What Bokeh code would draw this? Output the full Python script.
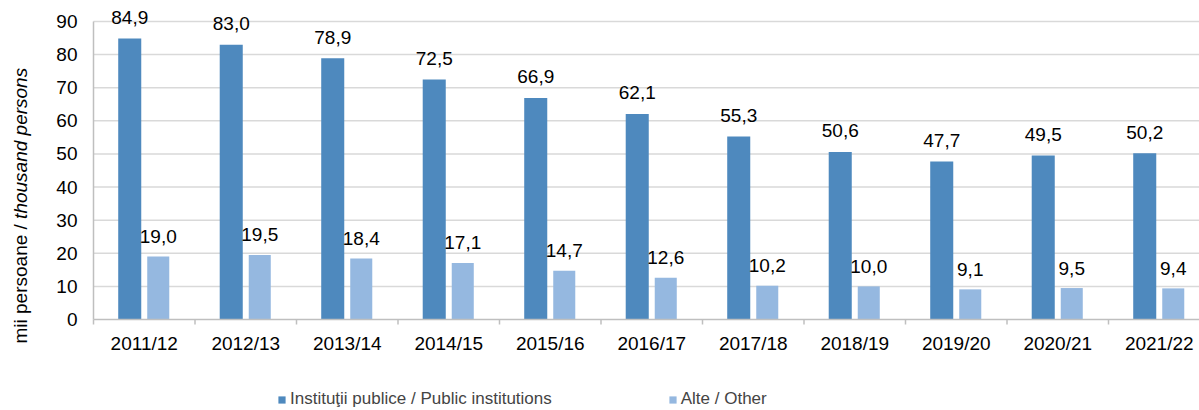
import math
from bokeh.plotting import figure
from bokeh.models import ColumnDataSource, Label, Legend, LegendItem, Range1d
from bokeh.transform import dodge
from bokeh.core.properties import value
from bokeh.embed import file_html
from bokeh.resources import INLINE

years = ["2011/12", "2012/13", "2013/14", "2014/15", "2015/16", "2016/17",
         "2017/18", "2018/19", "2019/20", "2020/21", "2021/22"]
publice = [84.9, 83.0, 78.9, 72.5, 66.9, 62.1, 55.3, 50.6, 47.7, 49.5, 50.2]
alte = [19.0, 19.5, 18.4, 17.1, 14.7, 12.6, 10.2, 10.0, 9.1, 9.5, 9.4]
series_names = ["Instituţii publice / Public institutions", "Alte / Other"]
y_ticks = [0, 10, 20, 30, 40, 50, 60, 70, 80, 90]
y_title = ["mii persoane /", "thousand persons"]

FONT = "Liberation Sans"
FS = "19px"
LEG_FS = "17px"
DARK = "#4E89BE"
LIGHT = "#95B8E0"
GRID = "#D9D9D9"
AXIS = "#BFBFBF"

W, H = 1199, 410
PX_X = 101.5          # pixels per category
PX_Y = 298 / 90       # pixels per unit
LEFT, BASE = 93, 319  # pixel position of the plot's left edge and of value 0

xs = list(range(len(years)))
fmt = lambda v: f"{v:.1f}".replace(".", ",")
src = ColumnDataSource(dict(
    x=xs, pub=publice, alt=alte,
    pub_lbl=[fmt(v) for v in publice],
    alt_lbl=[fmt(v) for v in alte],
))

x0 = -0.5
p = figure(width=W, height=H, output_backend="svg", toolbar_location=None,
           x_range=Range1d(x0 - LEFT / PX_X, x0 + (W - LEFT) / PX_X),
           y_range=Range1d(-(H - BASE) / PX_Y, BASE / PX_Y),
           x_axis_location=None, y_axis_location=None,
           min_border=0)
p.outline_line_color = None
p.background_fill_color = "white"
p.grid.visible = False

x_last = len(years) - 0.5

# gridlines
gl = y_ticks[1:]
p.segment(x0=[x0] * len(gl), y0=gl, x1=[x_last + 1] * len(gl), y1=gl,
          line_color=GRID, line_width=1.5)

r1 = p.vbar(x=dodge("x", -0.143), top="pub", width=0.227, bottom=0, source=src,
            fill_color=DARK, line_color=None)
r2 = p.vbar(x=dodge("x", 0.138), top="alt", width=0.217, bottom=0, source=src,
            fill_color=LIGHT, line_color=None)

p.text(x=dodge("x", -0.143), y="pub", text="pub_lbl", source=src, text_align="center",
       text_baseline="alphabetic", y_offset=-21, text_font=value(FONT),
       text_font_size=FS, text_color="black")
p.text(x=dodge("x", 0.138), y="alt", text="alt_lbl", source=src, text_align="center",
       text_baseline="alphabetic", y_offset=-20, text_font=value(FONT),
       text_font_size=FS, text_color="black")

# axis lines
p.segment(x0=[x0], y0=[y_ticks[0]], x1=[x0], y1=[y_ticks[-1]], line_color=AXIS, line_width=1.5)
p.segment(x0=[x0], y0=[0], x1=[x_last + 1], y1=[0], line_color=AXIS, line_width=1.5)

# category boundary ticks on the x axis
bounds = [i - 0.5 for i in range(len(years) + 1)]
p.segment(x0=bounds, y0=[0] * len(bounds), x1=bounds, y1=[-5 / PX_Y] * len(bounds),
          line_color=AXIS, line_width=1.5)

# x tick labels
p.text(x=xs, y=[0] * len(xs), text=years, text_align="center", text_baseline="middle",
       y_offset=24, text_font=value(FONT), text_font_size=FS, text_color="black")

# y tick labels
p.text(x=[x0] * len(y_ticks), y=y_ticks, text=[str(t) for t in y_ticks],
       text_align="right", text_baseline="middle", x_offset=-16,
       text_font=value(FONT), text_font_size=FS, text_color="black")

# y-axis title in two styles
lx = x0 - 73 / PX_X
ly0 = -24 / PX_Y
ly1 = ly0 + 124.6 / PX_Y
p.add_layout(Label(x=lx, y=ly0, text=y_title[0], angle=math.pi / 2,
                   text_align="left", text_baseline="middle",
                   text_font=FONT, text_font_size=FS, text_color="black"))
p.add_layout(Label(x=lx, y=ly1, text=y_title[1], angle=math.pi / 2,
                   text_align="left", text_baseline="middle",
                   text_font=FONT, text_font_size=FS, text_font_style="italic",
                   text_color="black"))

legend = Legend(items=[LegendItem(label=series_names[0], renderers=[r1]),
                       LegendItem(label=series_names[1], renderers=[r2])],
                orientation="horizontal", location=(277, 1),
                glyph_width=9, glyph_height=9, label_standoff=4, spacing=116,
                padding=0, margin=0, border_line_color=None, background_fill_alpha=0,
                label_text_font=FONT, label_text_font_size=LEG_FS, label_height=19)
p.add_layout(legend)

open("out.html", "w").write(file_html(p, INLINE))
